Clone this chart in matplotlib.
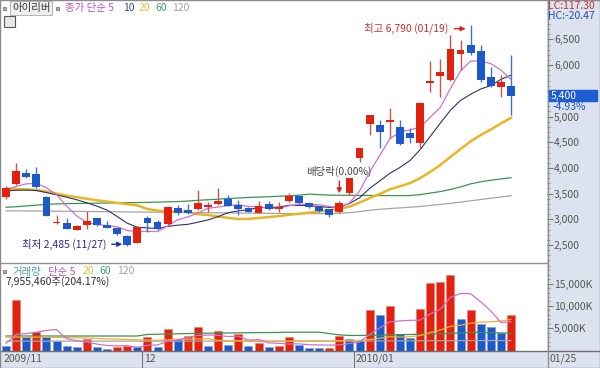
import numpy as np
import matplotlib
matplotlib.use('Agg')
import matplotlib.pyplot as plt
from matplotlib.patches import Rectangle
from matplotlib.lines import Line2D
import matplotlib.transforms as mtransforms
from matplotlib.ticker import FuncFormatter, MultipleLocator

plt.rcParams['font.family'] = ['Noto Sans CJK KR', 'DejaVu Sans']

# --- data ---
opens = np.array([3440, 3681, 3895, 3882, 3440, 2922, 2934, 2792, 2883, 3020,
                  2890, 2825, 2681, 2545, 3020, 2953, 2903, 3214, 3181, 3195,
                  3234, 3292, 3395, 3278, 3214, 3128, 3292, 3200, 3356, 3459,
                  3311, 3245, 3195, 3136, 3505, 4190, 4855, 4835, 4895, 4790,
                  4675, 4490, 5660, 5790, 5710, 6220, 6390, 6275, 5760, 5570, 5590])
highs = np.array([3650, 4090, 3973, 4012, 3450, 3084, 3020, 2880, 3162, 3030,
                  2960, 2835, 2690, 2850, 3064, 2985, 3255, 3280, 3298, 3570,
                  3343, 3603, 3473, 3376, 3230, 3356, 3356, 3343, 3506, 3470,
                  3320, 3255, 3200, 3356, 3810, 4390, 5030, 4932, 5160, 4932,
                  4771, 5280, 6081, 6114, 6586, 6489, 6790, 6392, 5969, 5808, 6197])
lows = np.array([3395, 3668, 3804, 3609, 3060, 2910, 2810, 2785, 2811, 2870,
                 2825, 2690, 2485, 2530, 2759, 2800, 2890, 3085, 3105, 3180,
                 3148, 3280, 3250, 3084, 3140, 3120, 3180, 3140, 3340, 3300,
                 3220, 3150, 3039, 3117, 3470, 4121, 4640, 4393, 4576, 4440,
                 4479, 4382, 5483, 5386, 5690, 5905, 6197, 5672, 5575, 5386, 5030])
closes = np.array([3615, 3940, 3817, 3623, 3070, 2953, 2817, 2870, 2967, 2890,
                   2838, 2708, 2505, 2845, 2934, 2811, 3245, 3117, 3125, 3311,
                   3278, 3356, 3265, 3200, 3148, 3265, 3195, 3245, 3459, 3311,
                   3234, 3167, 3084, 3311, 3800, 4380, 5030, 4695, 4930, 4460,
                   4590, 5270, 5690, 5870, 6310, 6295, 6230, 5710, 5600, 5680, 5400])
# volume in thousand shares
volumes = np.array([1120, 11350, 2990, 4100, 2990, 2020, 1120, 740, 2620, 740,
                    380, 740, 970, 740, 2990, 740, 4860, 2620, 3360, 5380,
                    1120, 4480, 1340, 3800, 970, 1680, 740, 900, 2990, 1200,
                    600, 550, 650, 3360, 2620, 2240, 9120, 8060, 10080, 3730,
                    2840, 9340, 15160, 15300, 17020, 7100, 9120, 5980, 5220, 3900, 7955])

# moving-average values before enough candles exist in the window
ma5_head = [3580, 3640, 3690, 3700]
ma10_head = [3550, 3565, 3570, 3560, 3520, 3475, 3430, 3380, 3320]
ma20_head = [3590, 3590, 3580, 3570, 3540, 3500, 3460, 3430, 3400, 3370,
             3345, 3320, 3295, 3270, 3200, 3170, 3150, 3148, 3145]
ma60 = [3234, 3245, 3260, 3275, 3290, 3300, 3305, 3308, 3311, 3314,
        3317, 3320, 3323, 3326, 3330, 3335, 3340, 3345, 3355, 3370,
        3380, 3392, 3405, 3415, 3425, 3432, 3440, 3448, 3458, 3468,
        3490, 3480, 3470, 3468, 3466, 3465, 3464, 3463, 3462, 3461,
        3462, 3480, 3510, 3540, 3580, 3630, 3690, 3730, 3760, 3785, 3810]
ma120 = [3165, 3164, 3163, 3162, 3160, 3158, 3156, 3154, 3152, 3150,
         3148, 3146, 3144, 3142, 3140, 3138, 3136, 3134, 3132, 3130,
         3128, 3126, 3124, 3122, 3120, 3118, 3116, 3114, 3112, 3110,
         3110, 3111, 3113, 3118, 3130, 3150, 3175, 3195, 3210, 3222,
         3235, 3250, 3270, 3290, 3310, 3335, 3360, 3385, 3410, 3435, 3459]
vma5_head = [1600, 3600, 3800, 4100]
vma20_head = [3000, 3000, 3000, 3000, 2990, 2950, 2900, 2850, 2800, 2700,
              2620, 2550, 2480, 2400, 2350, 2300, 2400, 2500, 2560]
vma60 = [3250] * 14 + [3600, 3650, 3700, 3750, 3800, 3850, 3880, 3900, 3930, 3960,
                       3990, 4010, 4030, 4050, 4100, 4100, 4100, 4100, 3800, 3500,
                       3380, 3380, 3400, 3450, 3500, 3550, 3600, 3650, 3700, 3740,
                       3850, 3950, 4100, 4050, 4000, 3950, 3880]
vma120 = [2100] * 30 + [2100, 2100, 2100, 2110, 2120, 2130, 2140, 2150, 2160, 2170,
                        2180, 2190, 2200, 2210, 2215, 2220, 2225, 2230, 2235, 2240, 2240]

month_labels = ['2009/11', '12', '2010/01']
month_start = [0, 14, 35]
last_date = '01/25'
high_idx, high_date = 46, '01/19'
low_idx, low_date = 12, '11/27'
exdiv_idx = 33


def sma(values, n, head):
    out = np.empty(len(values), dtype=float)
    out[:n - 1] = head
    for i in range(n - 1, len(values)):
        out[i] = values[i - n + 1:i + 1].mean()
    return out


ma5 = sma(closes, 5, ma5_head)
ma10 = sma(closes, 10, ma10_head)
ma20 = sma(closes, 20, ma20_head)
vma5 = sma(volumes, 5, vma5_head)
vma20 = sma(volumes, 20, vma20_head)

RED = '#e2220f'
BLUE = '#1c5acb'
PINK = '#d070d0'
NAVY = '#30306e'
GOLD = '#e8b526'
GREEN = '#3b9452'
GRAY = '#a5a5a5'
PANEL = '#dce3ee'
TXT = '#555555'

W, H = 600, 368
fig = plt.figure(figsize=(6, 3.68), dpi=100)


def fx(px):
    return px / W


def fy(py):
    return 1 - py / H


ax = fig.add_axes([fx(2), fy(262), fx(547) - fx(2), fy(2) - fy(262)])
axv = fig.add_axes([fx(2), fy(350.5), fx(547) - fx(2), fy(264) - fy(350.5)])

n = len(closes)
idx = np.arange(n)

# --- price panel ---
ax.plot(idx, ma120, color=GRAY, lw=0.9, zorder=1)
ax.plot(idx, ma60, color=GREEN, lw=0.9, zorder=1)
ax.plot(idx, ma20, color=GOLD, lw=1.8, zorder=1)
ax.plot(idx, ma10, color=NAVY, lw=0.8, zorder=1)
ax.plot(idx, ma5, color=PINK, lw=0.9, zorder=1)

up = closes >= opens
body_col = np.where(up, RED, BLUE)
wick_col = np.where(up, '#c8544a', '#3f72d2')
ax.vlines(idx, lows, highs, colors=wick_col, lw=1, zorder=2)
ax.bar(idx, np.maximum(np.abs(closes - opens), 18), bottom=np.minimum(opens, closes),
       width=0.78, color=body_col, lw=0, zorder=3)

ax.set_xlim(-0.4, 53.56)
ax.set_ylim(2169, 7229)
ax.set_xticks([])
for s in ax.spines.values():
    s.set_visible(False)
ax.yaxis.tick_right()
ax.set_yticks(np.arange(2500, 6501, 500))
ax.yaxis.set_minor_locator(MultipleLocator(100))
# the 5,500 label sits under the last-price tag, so it is left blank
ax.yaxis.set_major_formatter(FuncFormatter(lambda v, p: '' if int(v) == 5500 else f'{int(v):,}'))
ax.tick_params(axis='y', which='major', direction='out', length=4, width=0.8, pad=1,
               labelsize=7.5, colors='#777777', labelcolor=TXT)
ax.tick_params(axis='y', which='minor', direction='out', length=2, width=0.6, colors='#888888')

# annotations
ax.annotate(f'최고 {highs[high_idx]:,} ({high_date})', xy=(high_idx - 0.5, highs[high_idx] - 80),
            xytext=(-17, 0), textcoords='offset pixels', ha='right', va='center',
            fontsize=7.5, color='#c8302a',
            arrowprops=dict(arrowstyle='-|>', color='#e0201a', lw=1, mutation_scale=7,
                            shrinkA=2, shrinkB=0))
ax.annotate(f'최저 {lows[low_idx]:,} ({low_date})', xy=(low_idx - 0.5, lows[low_idx] + 30),
            xytext=(-16, 0), textcoords='offset pixels', ha='right', va='center',
            fontsize=7.5, color='#2a2a8a',
            arrowprops=dict(arrowstyle='-|>', color='#1a30b0', lw=1, mutation_scale=7,
                            shrinkA=2, shrinkB=0))
ax.annotate('배당락(0.00%)', xy=(exdiv_idx, highs[exdiv_idx] + 150),
            xytext=(0, 22), textcoords='offset pixels', ha='center', va='center',
            fontsize=7.5, color='#444444',
            arrowprops=dict(arrowstyle='-|>', color='#e0201a', lw=1, mutation_scale=7,
                            shrinkA=1, shrinkB=0))

# --- volume panel ---
vup = np.concatenate([[False], volumes[1:] > volumes[:-1]])
axv.bar(idx, volumes, width=0.8, color=np.where(vup, RED, BLUE),
        edgecolor=np.where(vup, '#f08070', '#7fa0e0'), lw=0.5, zorder=2)
axv.plot(idx, vma120, color=GRAY, lw=0.9, zorder=3)
axv.plot(idx, vma60, color=GREEN, lw=0.9, zorder=3)
axv.plot(idx, vma20, color='#f0b030', lw=0.9, zorder=3)
axv.plot(idx, vma5, color=PINK, lw=0.9, zorder=3)
axv.set_xlim(-0.4, 53.56)
axv.set_ylim(0, 19400)
axv.set_xticks([])
for s in axv.spines.values():
    s.set_visible(False)
axv.yaxis.tick_right()
axv.set_yticks([5000, 10000, 15000])
axv.yaxis.set_minor_locator(MultipleLocator(1000))
axv.yaxis.set_major_formatter(FuncFormatter(lambda v, p: f'{int(v):,}K'))
axv.tick_params(axis='y', which='major', direction='out', length=4, width=0.8, pad=1,
                labelsize=7.5, colors='#777777', labelcolor=TXT)
axv.tick_params(axis='y', which='minor', direction='out', length=2, width=0.6, colors='#888888')

# date bar labels / separators
trans = mtransforms.blended_transform_factory(axv.transData, axv.transAxes)
for lab, i in zip(month_labels, month_start):
    xpos = max(i - 0.5, -0.4)
    axv.text(xpos + 0.12, -0.1, lab, transform=trans, ha='left', va='center',
             fontsize=7.5, color=TXT, clip_on=False)
    if i > 0:
        axv.plot([xpos, xpos], [0, -0.2], transform=trans, color='#777777', lw=0.8,
                 clip_on=False)

# --- frame / panels ---
fig.patches.append(Rectangle((fx(547), 0), 1 - fx(547), 1, transform=fig.transFigure,
                             color=PANEL, zorder=-1))
fig.patches.append(Rectangle((0, 0), 1, fy(350.5), transform=fig.transFigure,
                             color=PANEL, zorder=-1))
for xs, ys, c in [([0, fx(547)], [fy(262.5), fy(262.5)], '#909090'),
                  ([0, 1], [fy(350.5), fy(350.5)], '#707070'),
                  ([fx(547.5), fx(547.5)], [0, 1], '#909090'),
                  ([0, 1, 1, 0, 0], [0.001, 0.001, 0.999, 0.999, 0.001], '#8a8a8a')]:
    fig.add_artist(Line2D(xs, ys, transform=fig.transFigure, color=c, lw=1))

fig.text(fx(550), fy(359), last_date, fontsize=7.5, color=TXT, va='center', ha='left')

# price tag
fig.patches.append(Rectangle((fx(549), fy(101)), fx(48), 10.5 / H, transform=fig.transFigure,
                             color='#1f5ed2', zorder=2.5))
fig.text(fx(551), fy(96), f'{closes[-1]:,}', fontsize=7.5, color='white', va='center',
         ha='left', zorder=3)
chg = (closes[-1] / closes[-2] - 1) * 100
fig.text(fx(553), fy(107), f'{chg:.2f}%', fontsize=7.5, color='#2050c0', va='center',
         ha='left', zorder=3)
fig.text(fx(548), fy(6), 'LC:117.30', fontsize=7.5, color='#c03030', va='center', ha='left')
fig.text(fx(548), fy(16), 'HC:-20.47', fontsize=7.5, color='#2050b0', va='center', ha='left')

# header legend (price)
fig.patches.append(Rectangle((fx(3), fy(9.5)), fx(3), 3 / H, transform=fig.transFigure,
                             fc='#aaaaaa', ec='#666666', lw=0.5, zorder=3))
fig.text(fx(12), fy(8), '아이리버', fontsize=7.5, color='#333333', va='center', ha='left',
         bbox=dict(boxstyle='square,pad=0.15', fc='#eeeeee', ec='#aaaaaa', lw=0.6))
fig.patches.append(Rectangle((fx(56), fy(9.5)), fx(3), 3 / H, transform=fig.transFigure,
                             fc='#aaaaaa', ec='#666666', lw=0.5, zorder=3))
for txt, px, c in [('종가 단순 5', 65, '#c050c0'), ('10', 123, '#404088'), ('20', 139, '#e0c040'),
                   ('60', 155, '#40a060'), ('120', 172, '#a0a0a0')]:
    fig.text(fx(px), fy(8), txt, fontsize=7.5, color=c, va='center', ha='left')
fig.patches.append(Rectangle((fx(4), fy(27)), fx(11), 11 / H, transform=fig.transFigure,
                             fc='#e8e8e8', ec='#555555', lw=0.8, zorder=3))

# header legend (volume)
fig.patches.append(Rectangle((fx(3), fy(273)), fx(3), 3 / H, transform=fig.transFigure,
                             fc='#aaaaaa', ec='#666666', lw=0.5, zorder=3))
for txt, px, c in [('거래량', 12, '#50a0a0'), ('단순 5', 48, '#c050c0'), ('20', 83, '#e0c040'),
                   ('60', 99, '#40a060'), ('120', 117, '#a0a0a0')]:
    fig.text(fx(px), fy(271.5), txt, fontsize=7.5, color=c, va='center', ha='left')
fig.text(fx(5), fy(282), '7,955,460주(204.17%)', fontsize=7.5, color='#333333',
         va='center', ha='left')

fig.savefig('out.png', dpi=100)
